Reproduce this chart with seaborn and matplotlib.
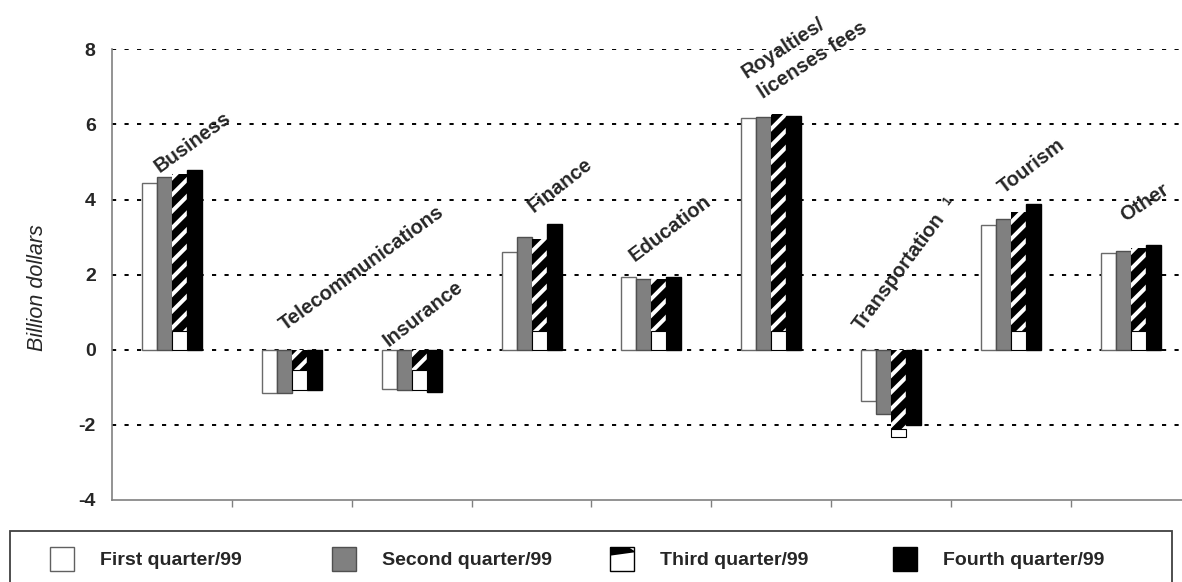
import numpy as np
import pandas as pd
import matplotlib
matplotlib.use("Agg")
import matplotlib.pyplot as plt
import seaborn as sns
from matplotlib.patches import Rectangle, Polygon, Patch
from matplotlib.legend_handler import HandlerBase

# ---- data (billion dollars) ----
categories = ["Business", "Telecommunications", "Insurance", "Finance", "Education",
              "Royalties/\nlicenses fees", "Transportation", "Tourism", "Other"]
quarters = ["First quarter/99", "Second quarter/99", "Third quarter/99", "Fourth quarter/99"]
q1 = [4.45, -1.14, -1.04, 2.59, 1.93, 6.17, -1.36, 3.31, 2.57]
q2 = [4.60, -1.15, -1.07, 3.01, 1.88, 6.19, -1.72, 3.49, 2.63]
q3 = [4.68, -1.08, -1.08, 2.95, 1.89, 6.27, -2.32, 3.67, 2.71]
q4 = [4.78, -1.06, -1.12, 3.34, 1.93, 6.22, -2.01, 3.88, 2.78]
yticks = [-4, -2, 0, 2, 4, 6, 8]
footnote_mark = "1"

# ---- style ----
sns.set_theme(style="white")
plt.rcParams["font.family"] = ["Liberation Sans", "DejaVu Sans"]
plt.rcParams["axes.unicode_minus"] = False
plt.rcParams["hatch.linewidth"] = 2.9
plt.rcParams["lines.scale_dashes"] = False

fills = ["white", "#808080", "black", "black"]
edges = ["#6a6a6a", "#505050", "white", "black"]
axis_grey = "#808080"

W, H = 1182, 582
fig = plt.figure(figsize=(W / 100, H / 100), dpi=100)
ax = fig.add_axes([112.1 / W, (H - 500) / H, 9 * 119.85 / W, 450.7 / H])

df = pd.DataFrame(
    [(c, q, v) for q, vals in zip(quarters, [q1, q2, q3, q4]) for c, v in zip(categories, vals)],
    columns=["category", "quarter", "value"],
)
sns.barplot(data=df, x="category", y="value", hue="quarter", order=categories,
            hue_order=quarters, palette=fills, saturation=1, width=0.5,
            errorbar=None, legend=False, ax=ax, zorder=3)

for i, cont in enumerate(ax.containers):
    for p in cont.patches:
        p.set_facecolor(fills[i])
        p.set_edgecolor(edges[i])
        p.set_linewidth(1.0)
        if i == 2:
            p.set_hatch("//")
            p.set_linewidth(0)

# plain band at the base of each striped bar
for p, v in zip(ax.containers[2].patches, q3):
    if v > 0:
        base, h = 0.0, min(v, 0.5)
    else:
        h = 0.55 if v > -1.5 else 0.2
        base = v
    ax.bar(p.get_x(), h, width=p.get_width(), bottom=base, align="edge",
           color="white", edgecolor="black", linewidth=0.8, zorder=4)

# dashed horizontal rules
for t in yticks[1:]:
    ax.axhline(t, color="black", linewidth=1.4, linestyle=(0, (3.0, 6.0)), zorder=1)

ax.set_ylim(-4, 8)
ax.set_xlim(-0.5, len(categories) - 0.5)
ax.set_yticks(yticks)
ax.set_yticklabels([str(t) for t in yticks], fontsize=14, fontweight="bold")
ax.tick_params(axis="y", direction="out", length=10.8, width=1.0, color=axis_grey, pad=1)
ax.set_xticks(range(len(categories)))
ax.set_xticklabels([])
ax.tick_params(axis="x", which="major", length=0)
ax.set_xticks(np.arange(0.5, len(categories) - 1, 1), minor=True)
ax.tick_params(axis="x", which="minor", direction="out", length=5, width=1.0,
               color=axis_grey, bottom=True)
ax.set_xlabel("")
ax.set_ylabel("")
for s in ["top", "right"]:
    ax.spines[s].set_visible(False)
for s in ["left", "bottom"]:
    ax.spines[s].set_color(axis_grey)
    ax.spines[s].set_linewidth(1.2)
ax.grid(False)

fig.text(38 / W, 1 - 288 / H, "Billion dollars", rotation=90, ha="center", va="center",
         fontsize=15.5, fontstyle="italic")

# slanted category names: (x offset from bar group, baseline height, angle)
label_layout = [
    [(-0.106, 4.71, 36)],
    [(-0.057, 0.51, 36)],
    [(-0.195, 0.07, 37.5)],
    [(0.014, 3.63, 38)],
    [(-0.137, 2.34, 37)],
    [(-0.205, 7.23, 33), (-0.066, 6.69, 33)],
    [(-0.246, 0.47, 53.4)],
    [(-0.064, 4.16, 37)],
    [(-0.048, 3.40, 33.3)],
]
for i, (name, lay) in enumerate(zip(categories, label_layout)):
    for line, (dx, y, rot) in zip(name.split("\n"), lay):
        ax.text(i + dx, y, line, rotation=rot, rotation_mode="anchor", ha="left",
                va="baseline", fontsize=14.5, fontweight="bold", zorder=5)
ax.text(6.477, 3.94, footnote_mark, rotation=53.4, rotation_mode="anchor", ha="center",
        va="center", fontsize=8.5, fontweight="bold", zorder=5)


# ---- legend ----
class StripedSwatch(HandlerBase):
    def create_artists(self, legend, orig_handle, xdescent, ydescent, width, height,
                       fontsize, trans):
        x0, y0 = -xdescent, -ydescent
        box = Rectangle((x0, y0), width, height, facecolor="white", edgecolor="black",
                        linewidth=1.0, transform=trans)
        pts = [(0, 0.64), (0, 1.0), (0.76, 1.0), (1.0, 0.84), (1.0, 0.78)]
        wedge = Polygon([(x0 + a * width, y0 + b * height) for a, b in pts], closed=True,
                        facecolor="black", edgecolor="none", transform=trans)
        return [box, wedge]


fig.patches.append(Rectangle((10 / W, -0.02), 1162 / W, 0.02 + (H - 531) / H,
                             transform=fig.transFigure, fill=False,
                             edgecolor="#404040", linewidth=1.3))
swatch_x = [50, 332, 610, 893]
legend_edges = ["#606060", "#505050", "black", "black"]
for i, (q, sx) in enumerate(zip(quarters, swatch_x)):
    handle = Patch(facecolor=fills[i] if i != 2 else "white", edgecolor=legend_edges[i],
                   linewidth=1.0)
    hmap = {handle: StripedSwatch()} if i == 2 else None
    fig.legend(handles=[handle], labels=[q], loc="center left",
               bbox_to_anchor=(sx / W, 1 - 559 / H), frameon=False, borderpad=0,
               borderaxespad=0, handlelength=1.25, handleheight=1.5, handletextpad=1.3,
               prop={"size": 14, "weight": "bold"}, handler_map=hmap)

fig.savefig("out.png", dpi=100)
